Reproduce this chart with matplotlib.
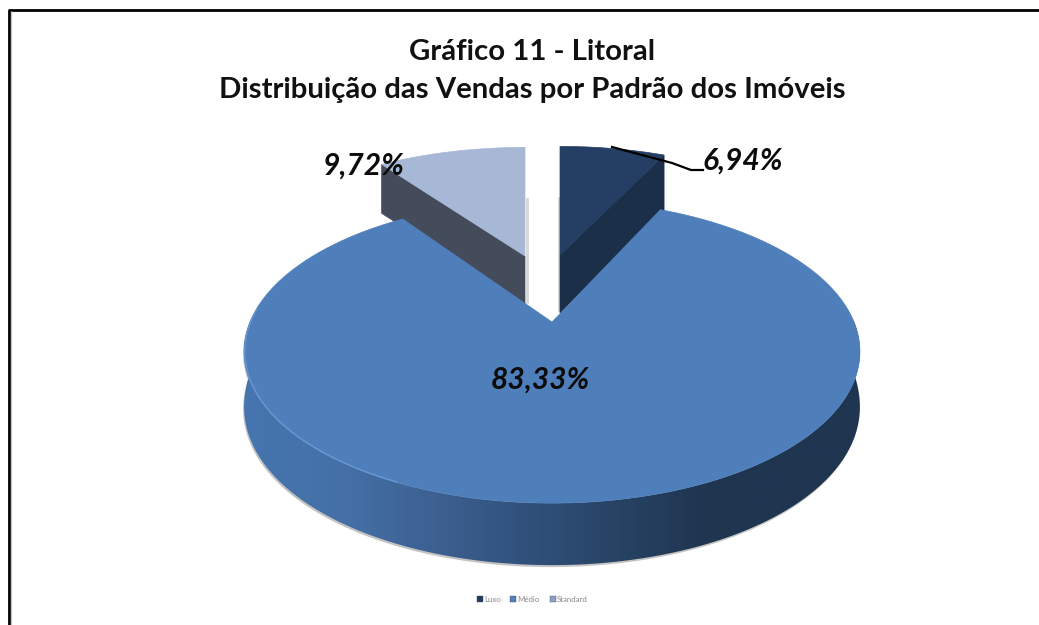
import numpy as np
import matplotlib
matplotlib.use("Agg")
import matplotlib.pyplot as plt
from matplotlib.colors import LinearSegmentedColormap
from matplotlib.patches import Polygon

# Chart data
categories = ["Luxo", "Médio", "Standard"]
values = [6.94, 83.33, 9.72]
title_lines = ["Gráfico 11 - Litoral", "Distribuição das Vendas por Padrão dos Imóveis"]

top_colors = ["#243f63", "#4f7fbb", "#a7b7d6"]
side_colors = ["#1b2f49", None, "#444c5c"]
legend_colors = ["#1f3a5f", "#4f81bd", "#8aa0c8"]


def project(theta, ox, oy, sx=1.0, sy=1.0, r=1.0):
    # perspective view of the pie disc, theta clockwise from 12 o'clock
    u = r * np.sin(theta)
    v = r * np.cos(theta)
    den = 1 + 0.195 * v
    return ox + sx * 302 * u / den, oy - sy * 145.8 * v / den


def label(v):
    return f"{v:.2f}".replace(".", ",") + "%"


fig = plt.figure(figsize=(10.39, 6.25), dpi=100)
ax = fig.add_axes([0, 0, 1, 1])
ax.set_xlim(0, 1039)
ax.set_ylim(625, 0)
ax.axis("off")

# frame
ax.plot([9, 9], [625, 10], color="black", lw=2.0, solid_capstyle="butt", zorder=1)
ax.plot([8, 1039], [10, 10], color="black", lw=2.0, solid_capstyle="butt", zorder=1)
ax.plot([11, 11], [11, 625], color="#c4c4c4", lw=0.9, solid_capstyle="butt", zorder=1)

# slice angles
edges = np.radians(np.concatenate([[0], np.cumsum(values) / sum(values) * 360]))

# exploded slices, drawn first so the big one covers their feet
exploded = {0: (560, 255, 58), 2: (525, 256, 49)}
for i, (ox, oy, depth) in exploded.items():
    t = np.linspace(edges[i], edges[i + 1], 80)
    x, y = project(t, ox, oy, 0.96, 0.89)
    if i == 0:
        cut = (x[-1], y[-1])
    else:
        cut = (x[0], y[0])
    # soft shadow beside the cut
    sx = ox - 1.5 if i == 0 else ox + 1.5
    ax.plot([sx, sx], [oy - 57, oy + depth - 3], color="#9a9a9a", lw=2, alpha=0.4, zorder=2)
    ax.add_patch(Polygon([(ox, oy), cut, (cut[0], cut[1] + depth), (ox, oy + depth)],
                         fc=side_colors[i], ec=side_colors[i], lw=0.5, zorder=3))
    ax.add_patch(Polygon(np.r_[[[ox, oy]], np.c_[x, y]], fc=top_colors[i], ec=top_colors[i],
                         lw=0.5, zorder=4))

# big slice wall with horizontal gradient
cx, cy = 552, 322
t = np.linspace(np.pi / 2 - 0.02, 3 * np.pi / 2 + 0.02, 300)
ex, ey = project(t, cx, cy)
# wall looks a bit taller at the front than at the sides
wall = 50 + 12 * np.sqrt(np.abs(np.cos(t)))
wall_xy = np.r_[np.c_[ex, ey], np.c_[ex[::-1], (ey + wall)[::-1]]]
ax.add_patch(Polygon(wall_xy + [-1, 2], fc="#b5b5b5", ec="none", alpha=0.8, zorder=5))
grad = LinearSegmentedColormap.from_list(
    "wall",
    [(0.0, "#4675af"), (0.17, "#4470a6"), (0.30, "#3d6192"), (0.45, "#31527d"),
     (0.62, "#264262"), (0.75, "#1f3550"), (1.0, "#1f3550")],
)
im = ax.imshow(np.linspace(0, 1, 400)[None, :], extent=(244, 860, 600, 300), cmap=grad,
               aspect="auto", zorder=6)
wall_patch = Polygon(wall_xy, fc="none", ec="none", zorder=6)
ax.add_patch(wall_patch)
im.set_clip_path(wall_patch)
ax.set_xlim(0, 1039)
ax.set_ylim(625, 0)

# big slice top face
t = np.linspace(edges[1], edges[2], 400)
x, y = project(t, cx, cy)
ax.add_patch(Polygon(np.r_[[[cx, cy]], np.c_[x, y]], fc=top_colors[1], ec=top_colors[1],
                     lw=0.5, zorder=7))
# lighter rim on the lower left
rim = np.radians(np.linspace(205, 275, 120))
x, y = project(rim, cx, cy, r=0.998)
ax.plot(x, y, color="#6c9bd8", lw=1.0, alpha=0.8, zorder=8)

# leader line for the small slice
ax.plot([612, 672, 691, 703], [147, 163, 170, 170], color="black", lw=1.6, zorder=9)

# data labels
label_font = dict(family="Lato", fontweight="bold", fontstyle="italic", fontsize=21.5,
                  color="#0c0c0c", ha="center", va="center", zorder=10)
ax.text(743, 161, label(values[0]), **label_font)
ax.text(540, 380, label(values[1]), **label_font)
ax.text(364, 166, label(values[2]), **label_font)

# title
title_font = dict(family="Lato", fontweight="bold", fontsize=21.2, color="#111111",
                  ha="center", va="center")
ax.text(532, 52, title_lines[0], **title_font)
ax.text(532, 90, title_lines[1], **title_font)

# legend
for name, col, x0 in zip(categories, legend_colors, [480, 513, 553]):
    ax.plot([x0], [599], marker="s", ms=4.2, color=col, mec="#555555", mew=0.3)
    ax.text(x0 + 4, 599.3, name, fontsize=5.7, family="Lato", color="#888888", ha="left", va="center")

fig.savefig("out.png", dpi=100, facecolor="white")
